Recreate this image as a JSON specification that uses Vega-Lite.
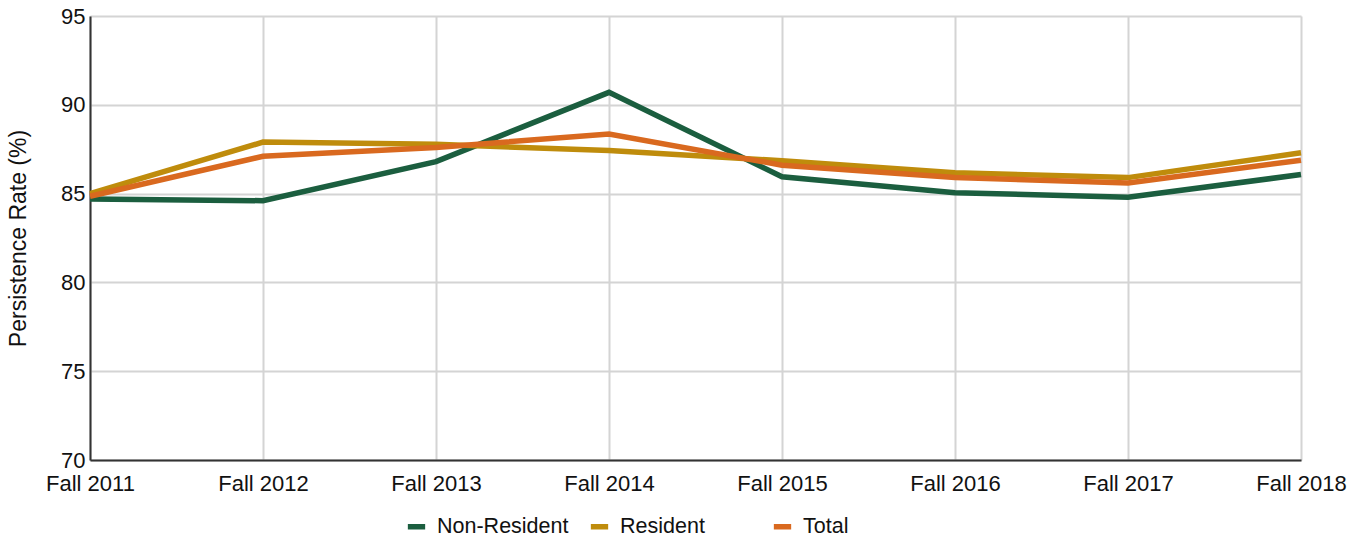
{
  "$schema": "https://vega.github.io/schema/vega-lite/v6.json",
  "width": 1211,
  "height": 444,
  "autosize": {"type": "none"},
  "padding": {"left": 90, "top": 16, "right": 57, "bottom": 79},
  "background": "white",
  "config": {
    "font": "Liberation Sans",
    "view": {"stroke": null}
  },
  "data": {
    "values": [
      {"term": "Fall 2011", "group": "Non-Resident", "rate": 84.7},
      {"term": "Fall 2012", "group": "Non-Resident", "rate": 84.6},
      {"term": "Fall 2013", "group": "Non-Resident", "rate": 86.8},
      {"term": "Fall 2014", "group": "Non-Resident", "rate": 90.7},
      {"term": "Fall 2015", "group": "Non-Resident", "rate": 85.95},
      {"term": "Fall 2016", "group": "Non-Resident", "rate": 85.05},
      {"term": "Fall 2017", "group": "Non-Resident", "rate": 84.8},
      {"term": "Fall 2018", "group": "Non-Resident", "rate": 86.07},
      {"term": "Fall 2011", "group": "Resident", "rate": 85.0},
      {"term": "Fall 2012", "group": "Resident", "rate": 87.9},
      {"term": "Fall 2013", "group": "Resident", "rate": 87.78},
      {"term": "Fall 2014", "group": "Resident", "rate": 87.42},
      {"term": "Fall 2015", "group": "Resident", "rate": 86.85},
      {"term": "Fall 2016", "group": "Resident", "rate": 86.18},
      {"term": "Fall 2017", "group": "Resident", "rate": 85.9},
      {"term": "Fall 2018", "group": "Resident", "rate": 87.3},
      {"term": "Fall 2011", "group": "Total", "rate": 84.85},
      {"term": "Fall 2012", "group": "Total", "rate": 87.1},
      {"term": "Fall 2013", "group": "Total", "rate": 87.6},
      {"term": "Fall 2014", "group": "Total", "rate": 88.36},
      {"term": "Fall 2015", "group": "Total", "rate": 86.6},
      {"term": "Fall 2016", "group": "Total", "rate": 85.9},
      {"term": "Fall 2017", "group": "Total", "rate": 85.6},
      {"term": "Fall 2018", "group": "Total", "rate": 86.88}
    ]
  },
  "mark": {"type": "line", "strokeWidth": 5.5, "strokeJoin": "miter"},
  "encoding": {
    "x": {
      "field": "term",
      "type": "ordinal",
      "scale": {"type": "point", "padding": 0},
      "axis": {
        "title": null,
        "labelAngle": 0,
        "labelFontSize": 22,
        "labelColor": "#111",
        "labelPadding": 13,
        "ticks": false,
        "domainColor": "#333",
        "domainWidth": 2,
        "grid": true,
        "gridColor": "#d4d4d4",
        "gridWidth": 2
      }
    },
    "y": {
      "field": "rate",
      "type": "quantitative",
      "scale": {"domain": [70, 95], "nice": false, "zero": false},
      "axis": {
        "title": "Persistence Rate (%)",
        "titleFontSize": 23,
        "titleFontWeight": "normal",
        "titleColor": "#111",
        "titlePadding": 30,
        "values": [70, 75, 80, 85, 90, 95],
        "labelFontSize": 22,
        "labelColor": "#111",
        "labelPadding": 5,
        "ticks": false,
        "domainColor": "#333",
        "domainWidth": 2,
        "gridColor": "#d4d4d4",
        "gridWidth": 2
      }
    },
    "color": {
      "field": "group",
      "type": "nominal",
      "scale": {
        "domain": ["Non-Resident", "Resident", "Total"],
        "range": ["#1b5e3f", "#bf8c0c", "#d9691f"]
      },
      "legend": {
        "title": null,
        "orient": "none",
        "legendX": 315,
        "legendY": 499,
        "direction": "horizontal",
        "columns": 3,
        "gridAlign": "all",
        "columnPadding": 10,
        "labelFontSize": 21.5,
        "labelColor": "#111",
        "symbolType": "stroke",
        "symbolStrokeWidth": 5.5,
        "symbolSize": 300,
        "labelOffset": 9
      }
    }
  }
}
